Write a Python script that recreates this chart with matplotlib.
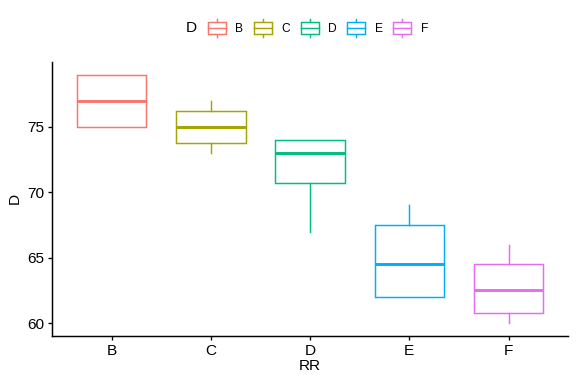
import matplotlib
matplotlib.use("Agg")
import matplotlib.pyplot as plt
from matplotlib.legend_handler import HandlerBase
from matplotlib.patches import Rectangle
from matplotlib.lines import Line2D

plt.rcParams['font.family'] = ['Liberation Sans', 'DejaVu Sans']

categories = ['B', 'C', 'D', 'E', 'F']
whislo = [75, 73, 67, 62, 60]
q1 = [75, 73.75, 70.75, 62, 60.75]
med = [77, 75, 73, 64.5, 62.5]
q3 = [79, 76.25, 74, 67.5, 64.5]
whishi = [79, 77, 74, 69, 66]
colors = ['#F8766D', '#A3A500', '#00BF7D', '#00B0F6', '#E76BF3']

fig = plt.figure(figsize=(6, 4), dpi=96)
ax = fig.add_axes([0.0903, 0.126, 0.896, 0.712])

stats = []
for i, c in enumerate(categories):
    stats.append(dict(label=c, whislo=whislo[i], q1=q1[i], med=med[i],
                      q3=q3[i], whishi=whishi[i], fliers=[]))
positions = list(range(1, len(categories) + 1))
bp = ax.bxp(stats, positions=positions, widths=0.7, showcaps=False,
            patch_artist=True, manage_ticks=False)
for i, col in enumerate(colors):
    b = bp['boxes'][i]
    b.set_facecolor('white')
    b.set_edgecolor(col)
    b.set_linewidth(1.1)
    bp['medians'][i].set_color(col)
    bp['medians'][i].set_linewidth(2.2)
    for w in bp['whiskers'][2 * i:2 * i + 2]:
        w.set_color(col)
        w.set_linewidth(1.1)

ax.set_xlim(0.4, 5.6)
ax.set_ylim(59.05, 79.95)
ax.set_xticks(positions)
ax.set_xticklabels(categories)
ax.set_yticks([60, 65, 70, 75])
for s in ['top', 'right']:
    ax.spines[s].set_visible(False)
for s in ['left', 'bottom']:
    ax.spines[s].set_linewidth(1.1)
ax.tick_params(axis='both', labelsize=11.5, colors='black', length=3, width=1.0, pad=3)
ax.set_xlabel('RR', fontsize=11.5, labelpad=1)
ax.set_ylabel('D', fontsize=11.5, labelpad=4)


class BoxHandler(HandlerBase):
    def __init__(self, color):
        super().__init__()
        self.color = color

    def create_artists(self, legend, orig_handle, xdescent, ydescent,
                       width, height, fontsize, trans):
        c = self.color
        bh = height * 0.61
        y0 = -ydescent + (height - bh) / 2
        x0 = -xdescent
        rect = Rectangle((x0, y0), width, bh, facecolor='white',
                         edgecolor=c, linewidth=1.1, transform=trans)
        mid = Line2D([x0, x0 + width], [y0 + bh / 2] * 2, color=c,
                     linewidth=1.1, transform=trans)
        cx = x0 + width / 2
        w1 = Line2D([cx, cx], [-ydescent, y0], color=c, linewidth=1.1,
                    transform=trans)
        w2 = Line2D([cx, cx], [y0 + bh, -ydescent + height], color=c,
                    linewidth=1.1, transform=trans)
        return [w1, w2, rect, mid]


handles = [Rectangle((0, 0), 1, 1) for _ in categories]
hmap = {h: BoxHandler(c) for h, c in zip(handles, colors)}
leg = fig.legend(handles, categories, handler_map=hmap, ncol=5,
                 loc='center', bbox_to_anchor=(318 / 576, 1 - 28 / 384),
                 frameon=False, fontsize=9, handlelength=1.5,
                 handleheight=1.95, handletextpad=0.8, columnspacing=0.88)
fig.text(191 / 576, 1 - 28 / 384, 'D', fontsize=11.5, ha='center', va='center')

fig.savefig('out.png', dpi=96)
